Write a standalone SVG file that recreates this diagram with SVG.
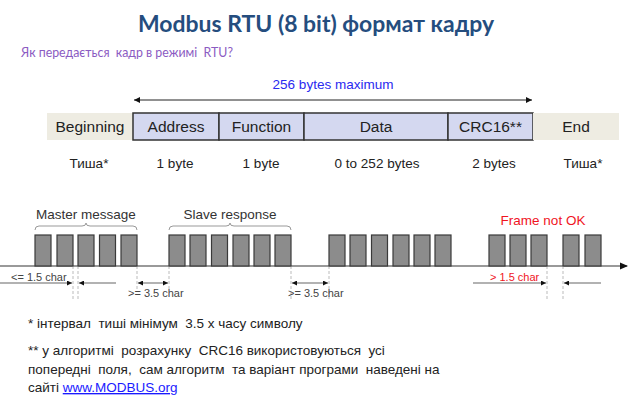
<svg xmlns="http://www.w3.org/2000/svg" width="640" height="404" viewBox="0 0 640 404">
  <defs>
    <style>
      .sans { font-family: "Liberation Sans", Arial, sans-serif; }
      .title { font-family: Lato, "Noto Sans", sans-serif; font-weight: bold; font-size: 22px; fill: #254d7e; }
      .sub { font-family: Lato, "Noto Sans", sans-serif; font-size: 12.5px; fill: #8b5bc2; white-space: pre; }
      .field { fill: #d4d8f0; stroke: #333; stroke-width: 1.5; }
      .pad { fill: #eeece2; }
      .ftxt { font-size: 15.5px; fill: #222; text-anchor: middle; }
      .size { font-size: 13.5px; fill: #222; text-anchor: middle; }
      .byte { fill: #8c8c8c; stroke: #3a3a3a; stroke-width: 1.2; }
      .brace { fill: none; stroke: #999; stroke-width: 1; }
      .lbl { font-size: 13.5px; fill: #333; text-anchor: middle; }
      .tlbl { font-size: 11px; fill: #444; }
      .red { fill: #f0141e; }
      .guide { stroke: #bbb; stroke-width: 1; stroke-dasharray: 3 2; }
      .span { stroke: #999; stroke-width: 1.5; fill: none; }
      .note { font-size: 13.5px; fill: #222; white-space: pre; }
      .link { fill: #1a1aff; text-decoration: underline; }
    </style>
    <marker id="ah" viewBox="0 0 10 10" refX="10" refY="5" markerWidth="6" markerHeight="6" markerUnits="userSpaceOnUse" orient="auto-start-reverse">
      <path d="M0,0 L10,5 L0,10 z" fill="#111"/>
    </marker>
    <marker id="ahs" viewBox="0 0 10 10" refX="10" refY="5" markerWidth="5" markerHeight="5" markerUnits="userSpaceOnUse" orient="auto-start-reverse">
      <path d="M0,0 L10,5 L0,10 z" fill="#111"/>
    </marker>
  </defs>

  <rect width="640" height="404" fill="#fff"/>

  <!-- heading -->
  <text class="title" x="316" y="32" text-anchor="middle" textLength="356" lengthAdjust="spacingAndGlyphs">Modbus RTU (8 bit) формат кадру</text>
  <text class="sub" x="21" y="56.5" textLength="212" lengthAdjust="spacingAndGlyphs">Як передається  кадр в режимі  RTU?</text>

  <!-- frame layout -->
  <g id="frame-length">
    <line x1="134" y1="100" x2="532" y2="100" stroke="#222" stroke-width="1" marker-start="url(#ah)" marker-end="url(#ah)"/>
    <text class="sans" x="333" y="89" font-size="13.5" fill="#2a2af0" text-anchor="middle">256 bytes maximum</text>
  </g>

  <g id="field-beginning">
    <rect class="pad" x="47" y="113" width="86" height="27"/>
    <text class="sans ftxt" x="90" y="132">Beginning</text>
    <text class="sans size" x="89" y="168">Тиша*</text>
  </g>
  <g id="field-address">
    <rect class="field" x="133" y="113" width="86" height="27"/>
    <text class="sans ftxt" x="176" y="132">Address</text>
    <text class="sans size" x="175" y="168">1 byte</text>
  </g>
  <g id="field-function">
    <rect class="field" x="219" y="113" width="85" height="27"/>
    <text class="sans ftxt" x="261.5" y="132">Function</text>
    <text class="sans size" x="261" y="168">1 byte</text>
  </g>
  <g id="field-data">
    <rect class="field" x="304" y="113" width="144" height="27"/>
    <text class="sans ftxt" x="376" y="132">Data</text>
    <text class="sans size" x="377" y="168">0 to 252 bytes</text>
  </g>
  <g id="field-crc">
    <rect class="field" x="448" y="113" width="85" height="27"/>
    <text class="sans ftxt" x="490.5" y="132">CRC16**</text>
    <text class="sans size" x="494" y="168">2 bytes</text>
  </g>
  <g id="field-end">
    <rect class="pad" x="533" y="113" width="86" height="27"/>
    <text class="sans ftxt" x="576" y="132">End</text>
    <text class="sans size" x="583" y="168">Тиша*</text>
  </g>

  <!-- timing line -->
  <g id="connectors">
    <line x1="0" y1="266" x2="627" y2="266" stroke="#999" stroke-width="2"/>
    <path d="M620,262.5 L628,266 L620,269.5 z" fill="#111"/>

    <!-- gap guides -->
    <line class="guide" x1="73" y1="266" x2="73" y2="299"/>
    <line class="guide" x1="78" y1="266" x2="78" y2="299"/>
    <line class="guide" x1="137" y1="266" x2="137" y2="291"/>
    <line class="guide" x1="169" y1="266" x2="169" y2="291"/>
    <line class="guide" x1="291" y1="266" x2="291" y2="299"/>
    <line class="guide" x1="329" y1="266" x2="329" y2="299"/>
    <line class="guide" x1="547" y1="266" x2="547" y2="299"/>
    <line class="guide" x1="563" y1="266" x2="563" y2="299"/>

    <!-- gap spans -->
    <line class="span" x1="0" y1="283" x2="72" y2="283" marker-end="url(#ahs)"/>
    <line class="span" x1="116" y1="283" x2="79" y2="283" marker-end="url(#ahs)"/>
    <line class="span" x1="138" y1="283" x2="168" y2="283" marker-start="url(#ahs)" marker-end="url(#ahs)"/>
    <line class="span" x1="292" y1="283" x2="328" y2="283" marker-start="url(#ahs)" marker-end="url(#ahs)"/>
    <line class="span" x1="473" y1="283" x2="546" y2="283" marker-end="url(#ahs)"/>
    <line class="span" x1="601" y1="283" x2="564" y2="283" marker-end="url(#ahs)"/>
  </g>

  <g id="gap-labels">
    <text class="sans tlbl" x="11" y="281">&lt;= 1.5 char</text>
    <text class="sans tlbl" x="128" y="297">&gt;= 3.5 char</text>
    <text class="sans tlbl" x="288" y="297">&gt;= 3.5 char</text>
    <text class="sans tlbl red" x="490" y="281">&gt; 1.5 char</text>
  </g>

  <g id="master-message">
    <path class="brace" d="M35,230 Q35,226 39,226 L82,226 Q86,226 86,223 Q86,226 90,226 L133,226 Q137,226 137,230"/>
    <text class="sans lbl" x="86" y="219">Master message</text>
    <rect class="byte" x="35" y="235" width="16" height="31"/>
    <rect class="byte" x="57" y="235" width="16" height="31"/>
    <rect class="byte" x="78" y="235" width="16" height="31"/>
    <rect class="byte" x="99.5" y="235" width="16" height="31"/>
    <rect class="byte" x="121" y="235" width="16" height="31"/>
  </g>

  <g id="slave-response">
    <path class="brace" d="M169,230 Q169,226 173,226 L226,226 Q230,226 230,223 Q230,226 234,226 L287,226 Q291,226 291,230"/>
    <text class="sans lbl" x="230" y="219">Slave response</text>
    <rect class="byte" x="169" y="235" width="16" height="31"/>
    <rect class="byte" x="190" y="235" width="16" height="31"/>
    <rect class="byte" x="211.5" y="235" width="16" height="31"/>
    <rect class="byte" x="233" y="235" width="16" height="31"/>
    <rect class="byte" x="254" y="235" width="16" height="31"/>
    <rect class="byte" x="275" y="235" width="16" height="31"/>
  </g>

  <g id="next-message">
    <rect class="byte" x="329" y="235" width="16" height="31"/>
    <rect class="byte" x="350" y="235" width="16" height="31"/>
    <rect class="byte" x="371.5" y="235" width="16" height="31"/>
    <rect class="byte" x="393" y="235" width="16" height="31"/>
    <rect class="byte" x="414" y="235" width="16" height="31"/>
    <rect class="byte" x="435" y="235" width="16" height="31"/>
  </g>

  <g id="broken-frame">
    <text class="sans lbl red" x="543" y="225">Frame not OK</text>
    <rect class="byte" x="489" y="235" width="16" height="31"/>
    <rect class="byte" x="510" y="235" width="16" height="31"/>
    <rect class="byte" x="531" y="235" width="16" height="31"/>
    <rect class="byte" x="563" y="235" width="16" height="31"/>
    <rect class="byte" x="585" y="235" width="16" height="31"/>
  </g>

  <!-- footnotes -->
  <g id="notes">
    <text class="sans note" x="28" y="328">* інтервал  тиші мінімум  3.5 х часу символу</text>
    <text class="sans note" x="28" y="355">** у алгоритмі  розрахунку  CRC16 використовуються  усі</text>
    <text class="sans note" x="28" y="374">попередні  поля,  сам алгоритм  та варіант програми  наведені на</text>
    <text class="sans note" x="28" y="392">сайті <tspan class="link">www.MODBUS.org</tspan></text>
  </g>
</svg>
